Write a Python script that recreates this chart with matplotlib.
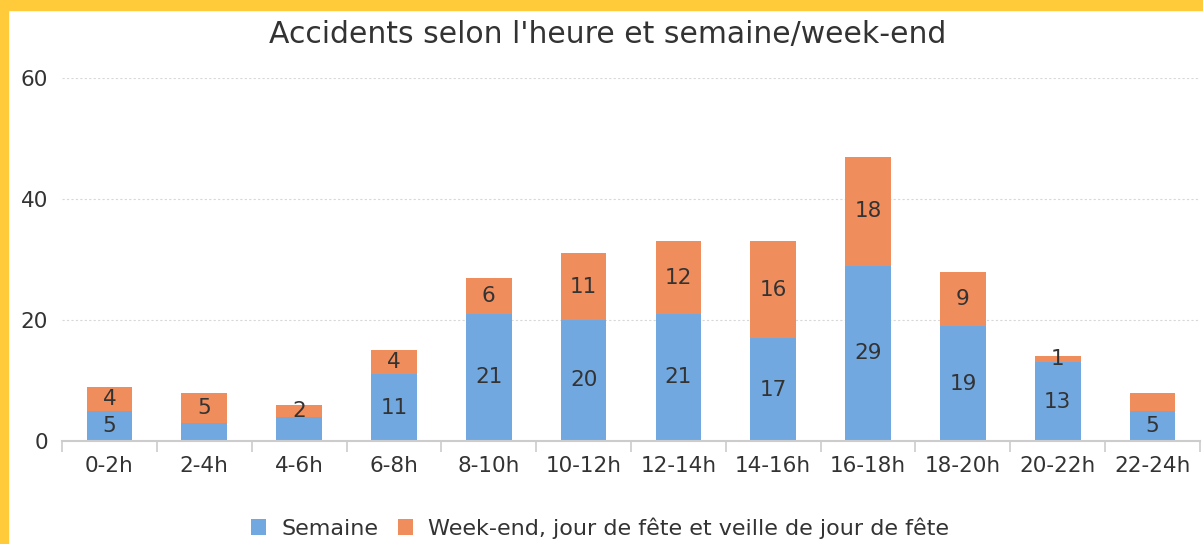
import matplotlib
matplotlib.use("Agg")
import matplotlib.pyplot as plt
from matplotlib.patches import Rectangle
import numpy as np

plt.rcParams["font.family"] = ["DejaVu Sans"]

categories = ["0-2h", "2-4h", "4-6h", "6-8h", "8-10h", "10-12h", "12-14h",
              "14-16h", "16-18h", "18-20h", "20-22h", "22-24h"]
semaine = [5, 3, 4, 11, 21, 20, 21, 17, 29, 19, 13, 5]
weekend = [4, 5, 2, 4, 6, 11, 12, 16, 18, 9, 1, 3]
# labels shown on the original chart (None = not displayed)
semaine_labels = [5, None, None, 11, 21, 20, 21, 17, 29, 19, 13, 5]
weekend_labels = [4, 5, 2, 4, 6, 11, 12, 16, 18, 9, 1, None]
series_names = ["Semaine", "Week-end, jour de fête et veille de jour de fête"]
title = "Accidents selon l'heure et semaine/week-end"
yticks = [0, 20, 40, 60]

W, H = 1203, 544
fig = plt.figure(figsize=(W / 100, H / 100), dpi=100)
fig.patch.set_facecolor("white")

ax_l, ax_r, ax_t, ax_b = 62, 1200, 78, 441
ax = fig.add_axes([ax_l / W, 1 - ax_b / H, (ax_r - ax_l) / W, (ax_b - ax_t) / H])

blue = "#72a8e0"
orange = "#ef8d5d"
txt = "#333333"
fs = 15.5

x = np.arange(len(categories))
bw = 0.48
b1 = ax.bar(x, semaine, bw, color=blue, label=series_names[0], zorder=2)
b2 = ax.bar(x, weekend, bw, bottom=semaine, color=orange, label=series_names[1], zorder=2)

for i in range(len(categories)):
    if semaine_labels[i] is not None:
        ax.text(x[i], semaine[i] / 2, str(semaine_labels[i]), ha="center", va="center",
                fontsize=fs, color=txt, zorder=3)
    if weekend_labels[i] is not None:
        ax.text(x[i], semaine[i] + weekend[i] / 2, str(weekend_labels[i]), ha="center",
                va="center", fontsize=fs, color=txt, zorder=3)

ax.set_xlim(-0.5, len(categories) - 0.5)
ax.set_ylim(0, 60)
ax.set_yticks(yticks)
ax.set_yticklabels([str(v) for v in yticks], fontsize=fs, color=txt)
ax.tick_params(axis="y", length=0, pad=10)
ax.set_xticks(x)
ax.set_xticklabels(categories, fontsize=fs, color=txt)
ax.tick_params(axis="x", which="major", length=0, pad=11)
ax.set_xticks(np.arange(-0.5, len(categories)), minor=True)
ax.tick_params(axis="x", which="minor", length=8, color="#cccccc", width=1.2, direction="out")

for s in ["top", "right", "left"]:
    ax.spines[s].set_visible(False)
ax.spines["bottom"].set_color("#cccccc")
ax.spines["bottom"].set_linewidth(1.5)
ax.grid(axis="y", color="#d8d8d8", linestyle=(0, (2, 2)), linewidth=0.8, zorder=0)
ax.set_axisbelow(True)

fig.text(608 / W, 1 - 34 / H, title, ha="center", va="center", fontsize=21.5, color=txt)

leg = fig.legend(handles=[b1, b2], labels=series_names, loc="center",
                 bbox_to_anchor=(600 / W, 1 - 528 / H), ncol=2, frameon=False,
                 fontsize=16, handlelength=0.68, handleheight=0.68, handletextpad=0.68,
                 columnspacing=0.9, labelcolor=txt, borderpad=0, borderaxespad=0)

border = "#ffcb3a"
fig.patches.append(Rectangle((0, 0), 8 / W, 1, transform=fig.transFigure,
                             color=border, zorder=10))
fig.patches.append(Rectangle((0, 1 - 10 / H), 1, 10 / H, transform=fig.transFigure,
                             color=border, zorder=10))

fig.savefig("out.png", dpi=100)
